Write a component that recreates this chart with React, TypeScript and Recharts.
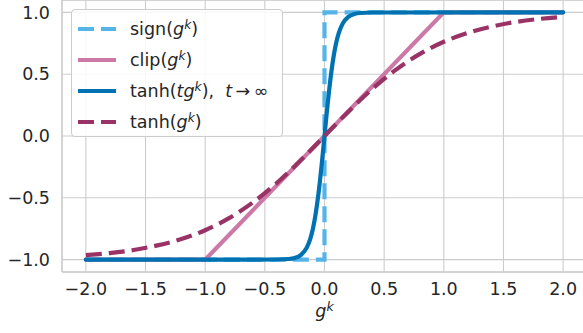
import { LineChart, Line, XAxis, YAxis, CartesianGrid, Legend, ReferenceLine } from "recharts";

// values
const X_TICKS = [-2, -1.5, -1, -0.5, 0, 0.5, 1, 1.5, 2];
const Y_TICKS = [-1, -0.5, 0, 0.5, 1];

const signX = [-2, 0, 0, 2];
const signY = [-1, -1, 1, 1];

const clipX = [-2, -1, 1, 2];
const clipY = [-1, -1, 1, 1];

const steepX = [-2, -0.4, -0.3, -0.25, -0.2, -0.15, -0.12, -0.1, -0.08, -0.06, -0.04, -0.02, 0, 0.02, 0.04, 0.06, 0.08, 0.1, 0.12, 0.15, 0.2, 0.25, 0.3, 0.4, 2];
const steepY = [-1, -0.999, -0.995, -0.987, -0.964, -0.905, -0.834, -0.762, -0.664, -0.537, -0.38, -0.197, 0, 0.197, 0.38, 0.537, 0.664, 0.762, 0.834, 0.905, 0.964, 0.987, 0.995, 0.999, 1];

const tanhX = [-2, -1.8, -1.6, -1.4, -1.2, -1, -0.8, -0.6, -0.4, -0.2, 0, 0.2, 0.4, 0.6, 0.8, 1, 1.2, 1.4, 1.6, 1.8, 2];
const tanhY = [-0.964, -0.947, -0.922, -0.885, -0.834, -0.762, -0.664, -0.537, -0.38, -0.197, 0, 0.197, 0.38, 0.537, 0.664, 0.762, 0.834, 0.885, 0.922, 0.947, 0.964];

const zip = (xs: number[], ys: number[]) => xs.map((x, i) => ({ x, y: ys[i] }));

const C_SIGN = "#56B4E9";
const C_CLIP = "#CC79A7";
const C_STEEP = "#0072B2";
const C_TANH = "#993366";
const TEXT = "#262626";
const GRID = "#cccccc";
const FONT = "'DejaVu Sans', sans-serif";
const DASH = "16 7";

const fmt = (v: number) => v.toFixed(1).replace("-", "\u2212");

const Sup = ({ children }: { children: React.ReactNode }) => (
  <span style={{ fontSize: "0.7em", verticalAlign: "0.5em", fontStyle: "italic" }}>{children}</span>
);

const LEGEND_ROWS = [
  { color: C_SIGN, dash: DASH, label: <>sign(<i>g</i><Sup>k</Sup>)</> },
  { color: C_CLIP, dash: undefined, label: <>clip(<i>g</i><Sup>k</Sup>)</> },
  { color: C_STEEP, dash: undefined, label: <>tanh(<i>tg</i><Sup>k</Sup>),&nbsp; <i>t</i>&thinsp;→&thinsp;∞</> },
  { color: C_TANH, dash: DASH, label: <>tanh(<i>g</i><Sup>k</Sup>)</> },
];

function LegendBox() {
  return (
    <div style={{
      width: 212, height: 128, boxSizing: "border-box", border: `1px solid ${GRID}`, borderRadius: 4,
      background: "rgba(255,255,255,0.85)", paddingTop: 3, fontFamily: FONT, fontSize: 17.5, color: TEXT,
    }}>
      {LEGEND_ROWS.map((r, i) => (
        <div key={i} style={{ height: 31, display: "flex", alignItems: "center" }}>
          <svg width={38} height={6} style={{ marginLeft: 6, flexShrink: 0 }}>
            <line x1={0} y1={3} x2={38} y2={3} stroke={r.color} strokeWidth={4.2}
              strokeDasharray={r.dash} strokeLinecap={r.dash ? "butt" : "round"} />
          </svg>
          <span style={{ marginLeft: 14, whiteSpace: "nowrap" }}>{r.label}</span>
        </div>
      ))}
    </div>
  );
}

const XLabel = (props: any) => {
  const vb = props.viewBox || {};
  const cx = vb.x + vb.width / 2;
  return (
    <text x={cx} y={317} textAnchor="middle" fontFamily={FONT} fontSize={17.5} fill={TEXT} fontStyle="italic">
      <tspan>g</tspan>
      <tspan dy={-6} fontSize={12.5}>k</tspan>
    </text>
  );
};

export default function App() {
  return (
    <div style={{ position: "absolute", left: 0, top: 0, width: 583, height: 333, overflow: "hidden", background: "#fff" }}>
      <LineChart width={590} height={333} margin={{ top: 0, right: 3, bottom: 0, left: 0 }}>
        <CartesianGrid stroke={GRID} strokeWidth={1.1} />
        <XAxis type="number" dataKey="x" domain={[-2.2, 2.2]} ticks={X_TICKS} allowDataOverflow
          height={61} tickLine={false} tickSize={0} tickMargin={11} tickFormatter={fmt}
          axisLine={{ stroke: GRID, strokeWidth: 1.3 }}
          tick={{ fill: TEXT, fontSize: 17.5, fontFamily: FONT }}
          label={<XLabel />} />
        <YAxis type="number" dataKey="y" domain={[-1.1, 1.1]} ticks={Y_TICKS} allowDataOverflow
          width={62} tickLine={false} tickSize={0} tickMargin={12} tickFormatter={fmt}
          axisLine={{ stroke: GRID, strokeWidth: 1.3 }}
          tick={{ fill: TEXT, fontSize: 17.5, fontFamily: FONT }} />
        <ReferenceLine y={1.1} stroke={GRID} strokeWidth={1.3} />
        <Legend layout="vertical" align="center" verticalAlign="middle" content={<LegendBox />}
          wrapperStyle={{ left: 71, top: 9, width: 212, height: 128 }} />
        <Line data={zip(signX, signY)} dataKey="y" type="linear" stroke={C_SIGN} strokeWidth={4.2}
          strokeDasharray={DASH} dot={false} isAnimationActive={false} />
        <Line data={zip(clipX, clipY)} dataKey="y" type="linear" stroke={C_CLIP} strokeWidth={4.2}
          strokeLinecap="round" dot={false} isAnimationActive={false} />
        <Line data={zip(steepX, steepY)} dataKey="y" type="monotone" stroke={C_STEEP} strokeWidth={4.2}
          strokeLinecap="round" strokeLinejoin="round" dot={false} isAnimationActive={false} />
        <Line data={zip(tanhX, tanhY)} dataKey="y" type="monotone" stroke={C_TANH} strokeWidth={4.2}
          strokeDasharray={DASH} dot={false} isAnimationActive={false} />
      </LineChart>
    </div>
  );
}
